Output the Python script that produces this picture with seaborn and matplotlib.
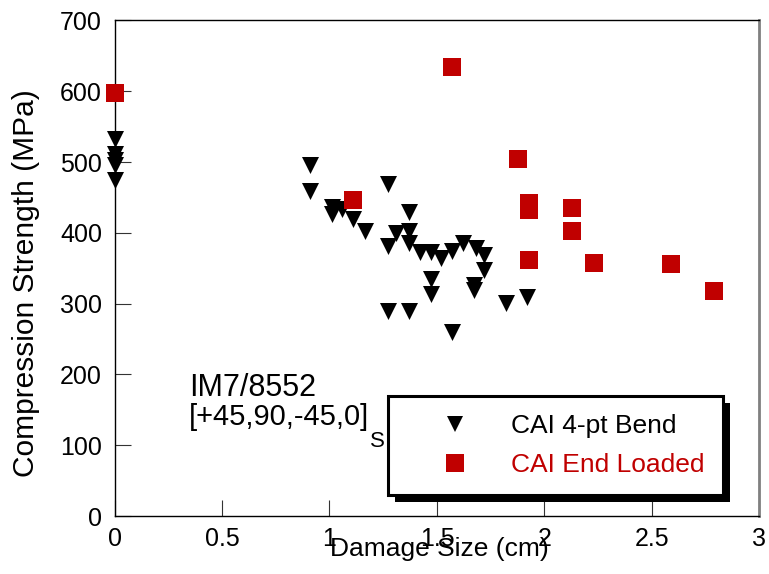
import matplotlib
matplotlib.use('Agg')
import matplotlib.pyplot as plt
from matplotlib.lines import Line2D
from matplotlib.patches import Rectangle
import seaborn as sns
import pandas as pd

# CAI 4-pt bend (damage size cm, compression strength MPa)
bend_x = [0, 0, 0, 0, 0, 0.91, 0.91, 1.01, 1.06, 1.01, 1.11, 1.165,
          1.27, 1.27, 1.37, 1.31, 1.37, 1.37, 1.42, 1.47, 1.52, 1.57,
          1.62, 1.68, 1.72, 1.72, 1.47, 1.47, 1.67, 1.67, 1.27, 1.37,
          1.57, 1.82, 1.92]
bend_y = [533, 512, 503, 496, 474, 496, 459, 437, 434, 426, 419, 402,
          469, 382, 429, 400, 402, 385, 373, 373, 364, 374,
          385, 378, 369, 347, 335, 314, 326, 319, 290, 290,
          260, 301, 310]

# CAI end loaded
end_x = [0, 1.11, 1.57, 1.875, 1.93, 1.93, 2.13, 2.13, 1.93, 2.23, 2.59, 2.79]
end_y = [597, 446, 634, 505, 442, 432, 435, 403, 362, 357, 356, 318]

series = ['CAI 4-pt Bend', 'CAI End Loaded']
colors = ['black', '#c00000']
xticks = [0, 0.5, 1, 1.5, 2, 2.5, 3]
yticks = [0, 100, 200, 300, 400, 500, 600, 700]

df = pd.DataFrame({
    'x': bend_x + end_x,
    'y': bend_y + end_y,
    'test': [series[0]] * len(bend_x) + [series[1]] * len(end_x),
})

sns.set_style('white')
plt.rcParams['font.family'] = ['Liberation Sans', 'DejaVu Sans']
plt.rcParams['text.color'] = 'black'
plt.rcParams['axes.labelcolor'] = 'black'
plt.rcParams['xtick.color'] = 'black'
plt.rcParams['ytick.color'] = 'black'

fig = plt.figure(figsize=(7.69, 5.74), dpi=100)
ax = fig.add_axes([0.1489, 0.1010, 0.8387, 0.8633])

bend = df[df['test'] == series[0]]
end = df[df['test'] == series[1]]
sns.scatterplot(data=bend, x='x', y='y', marker='v', color=colors[0], s=150,
                linewidth=0, clip_on=False, zorder=3, legend=False, ax=ax)
sns.scatterplot(data=end, x='x', y='y', marker='s', color=colors[1], s=180,
                linewidth=0, clip_on=False, zorder=4, legend=False, ax=ax)

ax.set_xlim(0, 3)
ax.set_ylim(0, 700)
ax.set_xticks(xticks)
ax.set_xticklabels(['0', '0.5', '1', '1.5', '2', '2.5', '3'])
ax.set_yticks(yticks)
ax.tick_params(axis='both', direction='in', length=11.5, width=0.8,
               color='#333333', labelsize=18, bottom=True, left=True)
ax.tick_params(axis='x', pad=8)
ax.tick_params(axis='y', pad=9)

for side in ['left', 'bottom', 'top']:
    ax.spines[side].set_color('black')
    ax.spines[side].set_linewidth(1.0)
ax.spines['right'].set_color('#808080')
ax.spines['right'].set_linewidth(2.0)

ax.set_xlabel('Damage Size (cm)', fontsize=19, va='center')
ax.xaxis.set_label_coords(0.5035, -0.066)
ax.set_ylabel('Compression Strength (MPa)', fontsize=21.5, va='center')
ax.yaxis.set_label_coords(-0.137, 0.47)

ax.text(0.1155, 0.2422, 'IM7/8552', transform=ax.transAxes,
        fontsize=22, ha='left', va='baseline')
main = ax.text(0.1155, 0.1837, '[+45,90,-45,0]', transform=ax.transAxes,
               fontsize=21, ha='left', va='baseline')
ax.annotate('S', xy=(1, 0), xycoords=main, xytext=(0.5, 0),
            textcoords='offset points', fontsize=16, ha='left', va='top')

handles = [
    Line2D([], [], linestyle='none', marker='v', markersize=12,
           markerfacecolor=colors[0], markeredgewidth=0),
    Line2D([], [], linestyle='none', marker='s', markersize=13,
           markerfacecolor=colors[1], markeredgewidth=0),
]
leg = ax.legend(handles, series, loc='upper left',
                bbox_to_anchor=(0.424, 0.2422), borderaxespad=0,
                fontsize=19, frameon=True, fancybox=False, framealpha=1,
                edgecolor='black', borderpad=0.69, labelspacing=0.57,
                handlelength=3.7, handletextpad=0.27)
leg.get_frame().set_linewidth(2.2)
leg.get_texts()[1].set_color(colors[1])

# drop shadow behind the legend box
fig.canvas.draw()
bb = leg.get_window_extent().transformed(ax.transAxes.inverted())
dx = 7 / (ax.bbox.width)
dy = 7 / (ax.bbox.height)
shadow = Rectangle((bb.x0 + dx, bb.y0 - dy), bb.width, bb.height,
                   transform=ax.transAxes, facecolor='black',
                   edgecolor='none', zorder=4.9, clip_on=False)
ax.add_patch(shadow)

fig.savefig('out.png', dpi=100)
